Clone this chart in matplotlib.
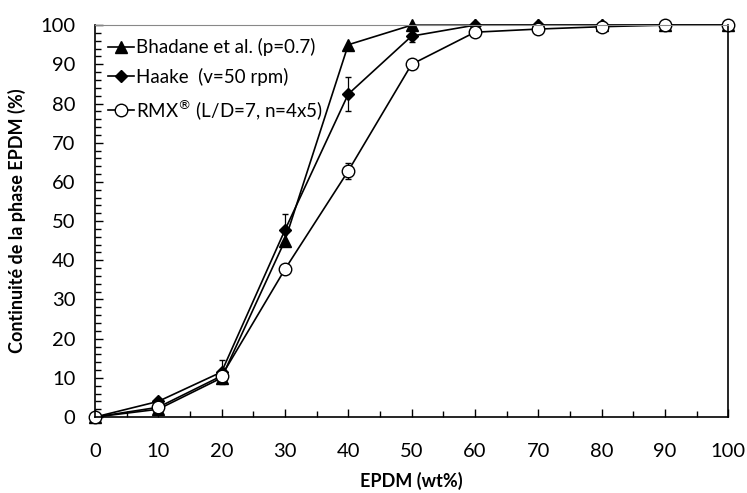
import matplotlib.pyplot as plt
from matplotlib.ticker import MultipleLocator

plt.rcParams['font.family'] = ['Lato', 'DejaVu Sans']

# Données
epdm = [0, 10, 20, 30, 40, 50, 60, 70, 80, 90, 100]
bhadane = [0, 2, 10, 45, 95, 100, 100, 100, 100, 100, 100]
haake = [0, 4, 11.5, 47.7, 82.4, 97.2, 100, 100, 100, 100, 100]
haake_err = [0, 0, 3, 4, 4.3, 1.5, 0, 0, 0, 0, 0]
rmx = [0, 2.5, 10.5, 37.7, 62.8, 90, 98.2, 99, 99.6, 100, 100]
rmx_err = [0, 0, 0, 0, 2, 0, 0.8, 1, 1, 0, 0]

fig = plt.figure(figsize=(7.47, 4.93), dpi=100)
ax = fig.add_axes([0.127, 0.154, 0.848, 0.795])

# barres d'erreur (hors légende)
ax.errorbar(epdm, haake, yerr=haake_err, fmt='none', ecolor='black',
            capsize=2.5, elinewidth=0.9, clip_on=False)
ax.errorbar(epdm, rmx, yerr=rmx_err, fmt='none', ecolor='black',
            capsize=2.5, elinewidth=0.9, clip_on=False)

ax.plot(epdm, bhadane, color='black', marker='^', markersize=8, lw=1.2,
        clip_on=False, label='Bhadane et al. (p=0.7)')
ax.plot(epdm, haake, color='black', marker='D', markersize=6, lw=1.2,
        clip_on=False, label='Haake  (v=50 rpm)')
ax.plot(epdm, rmx, color='black', marker='o', markersize=9, markerfacecolor='white',
        lw=1.2, clip_on=False, label='RMX$^{®}$ (L/D=7, n=4x5)')

ax.set_xlim(0, 100)
ax.set_ylim(0, 100)
ax.xaxis.set_major_locator(MultipleLocator(10))
ax.xaxis.set_minor_locator(MultipleLocator(5))
ax.yaxis.set_major_locator(MultipleLocator(10))
ax.yaxis.set_minor_locator(MultipleLocator(2))
ax.tick_params(which='both', direction='in', labelsize=14.5, width=1)
ax.tick_params(which='major', length=6)
ax.tick_params(which='minor', length=4)
ax.tick_params(axis='x', pad=19)
ax.tick_params(axis='y', pad=14)
ax.spines['top'].set_color('#888888')
ax.spines['top'].set_linewidth(0.8)
for s in ['left', 'bottom', 'right']:
    ax.spines[s].set_linewidth(1.2)

ax.set_xlabel('EPDM (wt%)', fontsize=13, fontweight='bold', labelpad=8)
ax.set_ylabel('Continuité de la phase EPDM (%)', fontsize=13, fontweight='bold', labelpad=10)

ax.legend(loc='upper left', frameon=False, fontsize=13.5, handlelength=1.4,
          handletextpad=0.1, borderaxespad=0.3, labelspacing=0.6)

fig.savefig('out.png', dpi=100)
